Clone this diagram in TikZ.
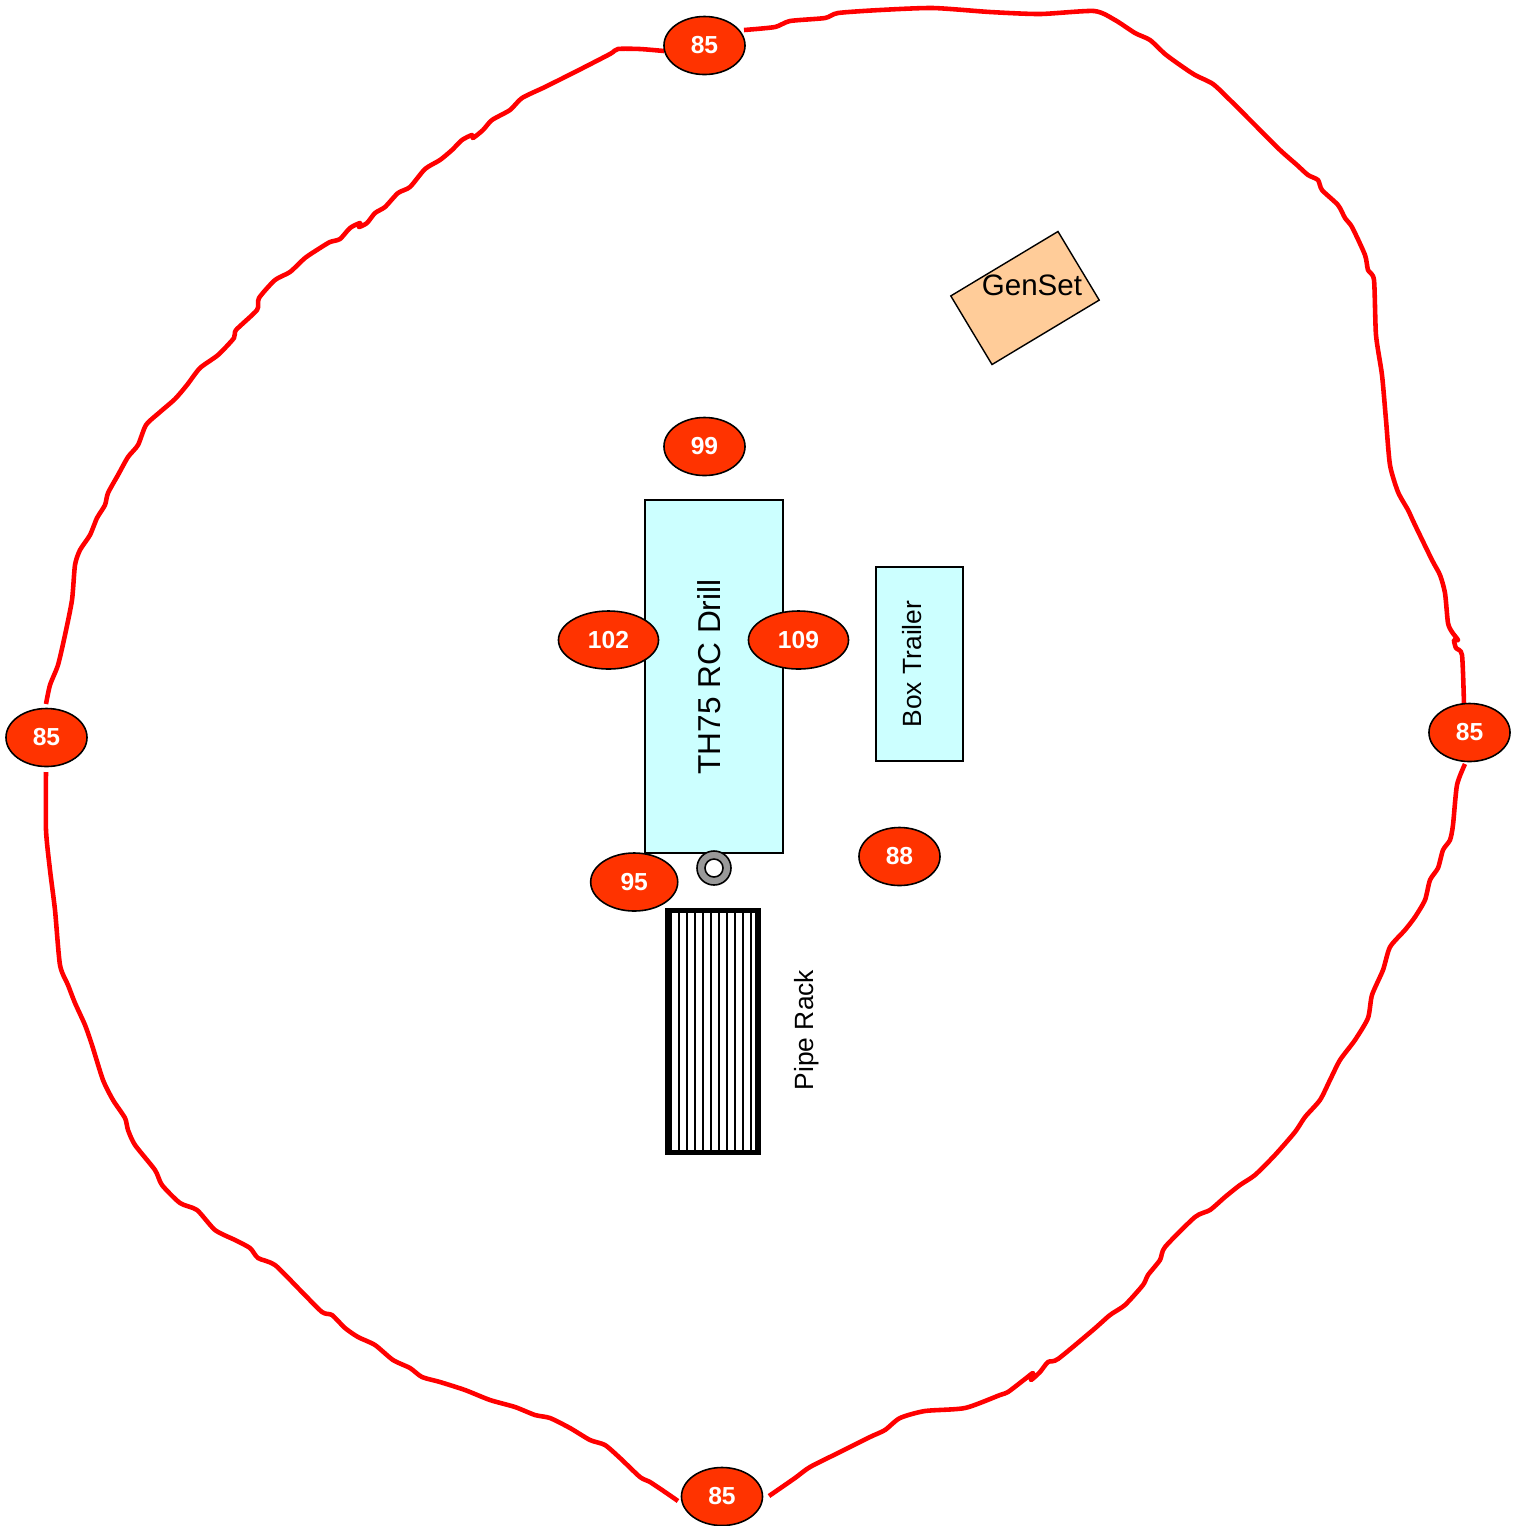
\documentclass[tikz,border=0pt]{standalone}
\usepackage{fontspec}
\usetikzlibrary{shapes.geometric}
\setmainfont{Liberation Sans}
\definecolor{speaker}{HTML}{FF3300}
\definecolor{machine}{HTML}{CCFFFF}
\definecolor{genfill}{HTML}{FFCC99}
\begin{document}
\begin{tikzpicture}[x=0.01cm,y=-0.01cm,%
% common options for the sound levels:
level/.style = {ellipse, draw=black, fill=speaker, line width=0.45pt, inner sep=0,
            text=white, font=\fontsize{7}{8}\selectfont\bfseries, minimum height=0.58cm},
wide/.style = {level, minimum width=1.0cm},
narrow/.style = {level, minimum width=0.81cm},
% common options for the equipment:
block/.style = {rectangle, draw=black, fill=machine, line width=0.4pt, inner sep=0},
contour/.style = {red, line width=1.3pt, line join=round}]
\useasboundingbox (0,0) rectangle (1523,1526);
% noise contour
\draw[contour] plot[smooth,tension=0.4] coordinates {(46,704) (50,685) (58,665) (65,635) (72,600) (75,565) (80,550) (90,535) (97,518) (105,505) (108,493) (118,475) (128,457) (138,445) (146,425) (160,412) (175,399) (187,385) (200,368) (218,355) (234,338) (236,330) (257,310) (259,298) (275,280) (290,272) (305,258) (320,248) (330,242) (340,239) (350,228) (360,223) (359,227) (367,223) (375,213) (385,207) (398,193) (410,187) (425,169) (440,160) (452,150) (462,140) (472,135) (473,138) (483,130) (492,120) (510,110) (522,98) (545,87) (575,72) (610,54) (618,49) (640,49) (664,51)};
\draw[contour] plot[smooth,tension=0.4] coordinates {(744,30) (775,27) (790,21) (825,18) (838,13) (880,10) (933,8) (990,12) (1040,14) (1094,11) (1115,20) (1135,33) (1150,40) (1165,54) (1180,65) (1195,75) (1213,84) (1230,100) (1255,125) (1280,150) (1297,165) (1308,175) (1318,180) (1322,190) (1338,205) (1345,218) (1352,227) (1365,255) (1368,270) (1374,280) (1376,335) (1382,375) (1386,420) (1390,465) (1398,492) (1408,510) (1415,525) (1432,560) (1440,575) (1445,593) (1448,623) (1452,632) (1458,640) (1454,640) (1456,648) (1462,655) (1464,704)};
\draw[contour] plot[smooth,tension=0.4] coordinates {(1465,764) (1457,785) (1453,825) (1450,840) (1443,850) (1438,868) (1430,880) (1425,900) (1415,917) (1405,930) (1390,947) (1383,970) (1372,995) (1368,1018) (1355,1040) (1340,1060) (1330,1080) (1320,1100) (1305,1117) (1295,1132) (1275,1155) (1255,1175) (1240,1185) (1225,1197) (1210,1210) (1195,1217) (1165,1247) (1160,1260) (1148,1275) (1143,1285) (1125,1305) (1110,1315) (1093,1330) (1058,1359) (1048,1362) (1040,1372) (1031,1380) (1033,1373) (1025,1379) (1008,1392) (1000,1395) (965,1408) (925,1411) (900,1418) (885,1430) (870,1437) (840,1452) (810,1467) (795,1478) (769,1496)};
\draw[contour] plot[smooth,tension=0.4] coordinates {(678,1501) (665,1492) (650,1482) (640,1477) (620,1458) (605,1445) (590,1440) (570,1428) (550,1418) (535,1415) (515,1407) (490,1400) (465,1390) (440,1382) (422,1377) (410,1368) (393,1360) (375,1345) (358,1337) (345,1328) (332,1315) (322,1312) (300,1290) (275,1265) (258,1258) (250,1248) (235,1240) (215,1230) (197,1210) (180,1203) (162,1185) (155,1170) (135,1145) (128,1130) (125,1118) (113,1100) (103,1080) (92,1045) (85,1025) (75,1003) (68,985) (60,965) (55,910) (50,870) (46,830) (46,772)};
% equipment
\node[block,minimum width=1.38cm,minimum height=3.53cm] (drill) at (714,676.5) {};
\node[rotate=90,inner sep=0,font=\fontsize{9}{10}\selectfont] (drillname) at (709,677) {TH75 RC Drill};
\node[block,minimum width=0.87cm,minimum height=1.94cm] (trailer) at (919.5,664) {};
\node[rotate=90,inner sep=0,font=\fontsize{7.5}{9}\selectfont] (trailername) at (912,664) {Box Trailer};
\node[block,fill=genfill,rotate=31,minimum width=1.25cm,minimum height=0.80cm] (genset) at (1025,298) {};
\node[inner sep=0,font=\fontsize{8.4}{10}\selectfont] (gensetname) at (1032,285) {GenSet};
\node[circle,draw=black,fill=black!40,line width=0.45pt,inner sep=0,minimum size=0.34cm] (well) at (714,868) {};
\node[circle,draw=black,fill=white,line width=0.45pt,inner sep=0,minimum size=0.18cm] (bore) at (714,868) {};
% pipe rack
\node[rectangle,draw=black,line width=1.6pt,inner sep=0,minimum width=0.90cm,minimum height=2.42cm] (rack) at (713,1031.5) {};
\foreach \px in {671,679,687,695,703,711,719,727,735,743,751}
  \draw[line width=0.5pt] (\px,908) -- (\px,1155);
\node[rotate=90,inner sep=0,font=\fontsize{7.5}{9}\selectfont] (rackname) at (806.5,1030) {Pipe Rack};
% sound levels
\node[narrow] (L1) at (704.5,45.5) {85};
\node[narrow] (L2) at (46.5,737.5) {85};
\node[narrow] (L3) at (1469.5,732.5) {85};
\node[narrow] (L4) at (722,1496.5) {85};
\node[narrow] (L5) at (704.5,446.5) {99};
\node[wide] (L6) at (608.5,640) {102};
\node[wide] (L7) at (798.5,640) {109};
\node[level,minimum width=0.87cm] (L8) at (634.2,882) {95};
\node[narrow] (L9) at (899.5,856.5) {88};
\end{tikzpicture}
\end{document}
